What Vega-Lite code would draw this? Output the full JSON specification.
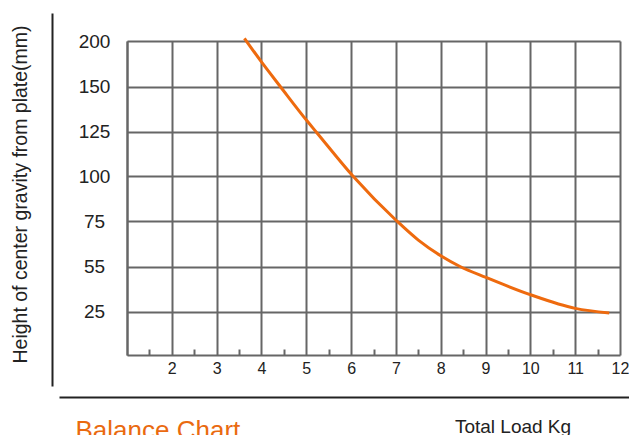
{
  "$schema": "https://vega.github.io/schema/vega-lite/v6.json",
  "width": 493,
  "height": 314,
  "autosize": {"type": "none"},
  "padding": {"left": 127, "top": 41, "right": 9, "bottom": 80},
  "background": "white",
  "config": {"view": {"stroke": null}, "font": "Liberation Sans"},
  "data": {"values": [
    {"load": 3.62, "height": 203},
    {"load": 4.0, "height": 177},
    {"load": 4.42, "height": 150},
    {"load": 5.02, "height": 130.8},
    {"load": 5.24, "height": 124.2},
    {"load": 6.04, "height": 100},
    {"load": 7.02, "height": 75},
    {"load": 7.5, "height": 66.6},
    {"load": 8.01, "height": 59.6},
    {"load": 8.43, "height": 55},
    {"load": 9.01, "height": 47.7},
    {"load": 10.02, "height": 36},
    {"load": 11.0, "height": 27.1},
    {"load": 11.76, "height": 24.2}
  ]},
  "layer": [
    {
      "mark": {"type": "line", "color": "#EE6A0E", "strokeWidth": 3, "interpolate": "monotone", "clip": false},
      "encoding": {
        "x": {"field": "load", "type": "quantitative",
          "scale": {"domain": [1, 12], "nice": false, "zero": false},
          "axis": {"orient": "bottom", "title": null,
            "values": [1, 1.5, 2, 2.5, 3, 3.5, 4, 4.5, 5, 5.5, 6, 6.5, 7, 7.5, 8, 8.5, 9, 9.5, 10, 10.5, 11, 11.5, 12],
            "grid": true, "gridColor": "#666666", "gridWidth": 2,
            "gridOpacity": {"condition": {"test": "datum.value % 1 === 0", "value": 1}, "value": 0},
            "domain": true, "domainColor": "#666666", "domainWidth": 2,
            "ticks": true, "tickColor": "#666666", "tickWidth": 2, "tickSize": -6,
            "tickOpacity": {"condition": {"test": "datum.value % 1 !== 0", "value": 1}, "value": 0},
            "labelExpr": "(datum.value % 1 === 0 && datum.value > 1) ? format(datum.value, 'd') : ''",
            "labelFont": "Liberation Sans", "labelFontSize": 16, "labelColor": "#222222",
            "labelPadding": 11, "labelFlush": false, "labelOverlap": false}
        },
        "y": {"field": "height", "type": "quantitative",
          "scale": {"type": "linear", "domain": [0, 25, 55, 75, 100, 125, 150, 200], "range": [314, 270.5, 225.5, 180, 135, 90.5, 45.5, 0], "nice": false, "zero": false},
          "axis": {"orient": "left", "title": null,
            "values": [25, 55, 75, 100, 125, 150, 200],
            "grid": true, "gridColor": "#666666", "gridWidth": 2,
            "domain": true, "domainColor": "#666666", "domainWidth": 2,
            "ticks": false,
            "labelFont": "Liberation Sans", "labelFontSize": 19, "labelColor": "#222222",
            "labelAlign": "center", "labelBaseline": "middle", "labelPadding": 33, "labelOverlap": false}
        }
      }
    },
    {
      "mark": {"type": "point", "opacity": 0},
      "encoding": {
        "x": {"field": "load", "type": "quantitative",
          "scale": {"domain": [0, 1], "range": [-68, 502], "nice": false, "zero": false},
          "axis": {"orient": "bottom", "offset": 42, "domainColor": "#222222", "domainWidth": 2,
            "ticks": false, "labels": false, "grid": false,
            "title": "Total Load Kg", "titleX": 385.5, "titleY": 35, "titleAlign": "center", "titleBaseline": "alphabetic",
            "titleFont": "Liberation Sans", "titleFontSize": 19, "titleFontWeight": "normal", "titleColor": "#222222"}
        },
        "y": {"field": "height", "type": "quantitative",
          "scale": {"domain": [0, 1], "range": [345, -28], "nice": false, "zero": false},
          "axis": {"orient": "left", "offset": 75, "domainColor": "#222222", "domainWidth": 2,
            "ticks": false, "labels": false, "grid": false,
            "title": "Height of center gravity from plate(mm)", "titleX": -32, "titleY": 153, "titleAngle": 270,
            "titleAlign": "center", "titleBaseline": "middle",
            "titleFont": "Liberation Sans", "titleFontSize": 19.5, "titleFontWeight": "normal", "titleColor": "#222222"}
        }
      }
    },
    {
      "mark": {"type": "point", "opacity": 0},
      "encoding": {
        "x": {"field": "load", "type": "quantitative",
          "scale": {"domain": [0, 1], "nice": false, "zero": false},
          "axis": {"orient": "bottom", "offset": 42, "domain": false,
            "ticks": false, "labels": false, "grid": false,
            "title": "Balance Chart", "titleX": -52, "titleY": 41, "titleAlign": "left", "titleBaseline": "alphabetic",
            "titleFont": "Liberation Sans", "titleFontSize": 26, "titleFontWeight": "normal", "titleColor": "#EA6A10"}
        }
      }
    }
  ],
  "resolve": {"scale": {"x": "independent", "y": "independent"}, "axis": {"x": "independent", "y": "independent"}}
}
